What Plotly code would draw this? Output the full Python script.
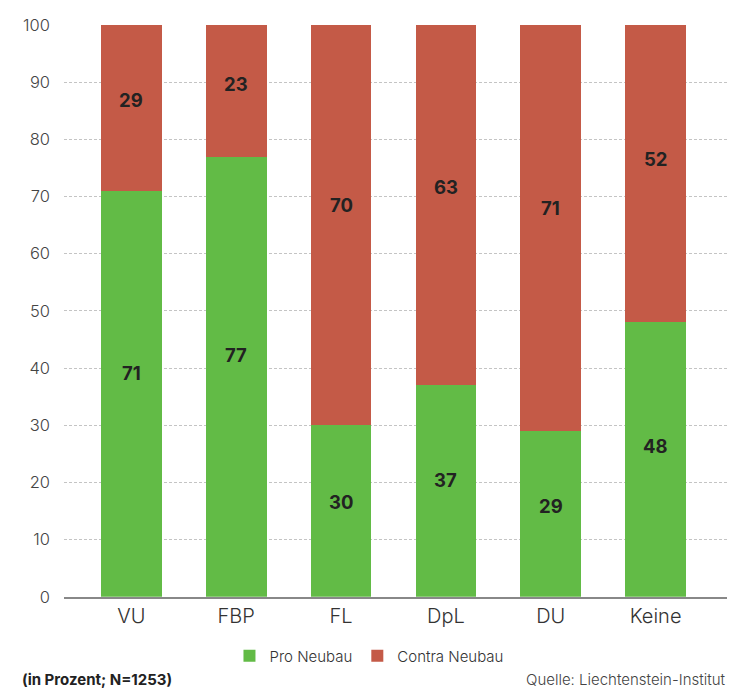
import plotly.graph_objects as go

# Survey: support for a new building, by party preference (in percent)
parteien = ["VU", "FBP", "FL", "DpL", "DU", "Keine"]
pro_neubau = [71, 77, 30, 37, 29, 48]
contra_neubau = [29, 23, 70, 63, 71, 52]
y_ticks = [0, 10, 20, 30, 40, 50, 60, 70, 80, 90, 100]

GREEN = "#62BB46"
RED = "#C45A47"
FONT = "Inter, Roboto, sans-serif"

fig = go.Figure()
fig.add_trace(go.Bar(x=parteien, y=pro_neubau, name="Pro Neubau",
                     marker=dict(color=GREEN, line=dict(width=0)), width=0.58))
fig.add_trace(go.Bar(x=parteien, y=contra_neubau, name="Contra Neubau",
                     marker=dict(color=RED, line=dict(width=0)), width=0.58))

# Value labels, placed slightly above the middle of each segment
annotations = []
for i, p in enumerate(parteien):
    annotations.append(dict(x=p, y=pro_neubau[i] * 0.55, text=f"<b>{pro_neubau[i]}</b>",
                            showarrow=False, font=dict(size=18.5, color="#222", family=FONT)))
    annotations.append(dict(x=p, y=pro_neubau[i] + contra_neubau[i] * 0.55,
                            text=f"<b>{contra_neubau[i]}</b>",
                            showarrow=False, font=dict(size=18.5, color="#222", family=FONT)))

annotations.append(dict(xref="paper", yref="paper", x=-44 / 663, y=-83 / 574,
                        xanchor="left", yanchor="middle", showarrow=False,
                        text="<b>(in Prozent; N=1253)</b>",
                        font=dict(size=15, color="#222", family=FONT)))
annotations.append(dict(xref="paper", yref="paper", x=1.0, y=-83 / 574,
                        xanchor="right", yanchor="middle", showarrow=False,
                        text="Quelle: Liechtenstein-Institut",
                        font=dict(size=15, color="#444", family=FONT, weight=300)))

fig.update_layout(
    barmode="stack",
    width=753, height=694,
    margin=dict(l=64, r=26, t=25, b=95),
    plot_bgcolor="white", paper_bgcolor="white",
    font=dict(family=FONT, color="#333"),
    showlegend=True,
    legend=dict(orientation="h", xref="container", yref="container",
                x=0.49, xanchor="center", y=1 - 656 / 694, yanchor="middle",
                font=dict(size=15, color="#333", weight=300), itemwidth=30,
                traceorder="normal"),
    annotations=annotations,
    bargap=0.42,
)
fig.update_xaxes(range=[-0.643, 5.681], showgrid=False, showline=True,
                 linecolor="#888", linewidth=1.5, ticks="",
                 tickfont=dict(size=20, color="#333", family=FONT, weight=300))
fig.update_yaxes(range=[0, 100], tickvals=y_ticks, showgrid=True,
                 gridcolor="#C4C4C4", griddash="3px,2px", gridwidth=1,
                 zeroline=False, showline=False, ticks="",
                 ticklabelstandoff=13,
                 tickfont=dict(size=16.5, color="#444", family=FONT, weight=300))

fig.write_html("out.html")
